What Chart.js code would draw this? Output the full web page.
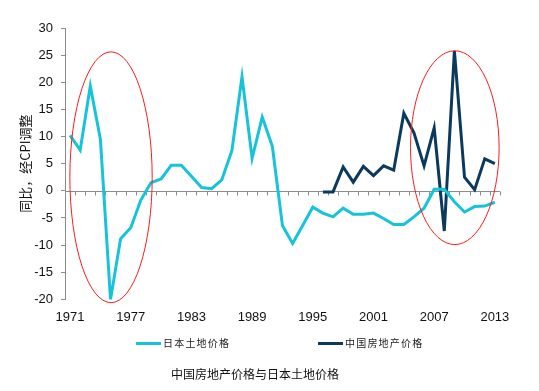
<!DOCTYPE html>
<html>
<head>
<meta charset="utf-8">
<script src="https://cdn.jsdelivr.net/npm/chart.js@4/dist/chart.umd.min.js"></script>
<style>
  body { margin: 0; background: #fff; }
  .wrap { position: relative; width: 539px; height: 391px; }
  canvas { position: absolute; left: 0; top: 0; }
  .legend-line { position: absolute; height: 3px; }
  .legend-text { position: absolute; font: 10px "Noto Sans CJK SC", sans-serif; letter-spacing: 1.2px; color: #222; line-height: 14px; }
  .title { position: absolute; font: 12px "Noto Sans CJK SC", sans-serif; color: #111; line-height: 16px; }
</style>
</head>
<body>
<div class="wrap">
  <canvas id="chart" width="539" height="391"></canvas>
  <div class="legend-line" style="left:136px; top:342px; width:25px; background:#17c3d8;"></div>
  <div class="legend-text" style="left:163px; top:336px;">日本土地价格</div>
  <div class="legend-line" style="left:318px; top:342px; width:25px; background:#0b3a5e;"></div>
  <div class="legend-text" style="left:345px; top:336px;">中国房地产价格</div>
  <div class="title" style="left:171px; top:366px;">中国房地产价格与日本土地价格</div>
</div>
<script>
// years shown on the x axis
const xTickYears = [1971, 1977, 1983, 1989, 1995, 2001, 2007, 2013];

// Japan land price, 1971-2013 (yoy, CPI adjusted)
const japanYears = [];
for (let y = 1971; y <= 2013; y++) japanYears.push(y);
const japanValues = [
  10.2, 7.5, 19.3, 9.5, -20, -8.8, -6.8, -1.7, 1.5, 2.2,
  4.7, 4.7, 2.7, 0.6, 0.4, 2.0, 7.4, 21.0, 6.0, 13.6,
  8.2, -6.4, -9.7, -6.4, -3.0, -4.1, -4.8, -3.2, -4.3, -4.3,
  -4.1, -5.1, -6.2, -6.2, -4.8, -3.2, 0.3, 0.3, -2.0, -3.9,
  -2.9, -2.8, -2.1
];

// China property price, 1996-2013
const chinaYears = [];
for (let y = 1996; y <= 2013; y++) chinaYears.push(y);
const chinaValues = [
  -0.2, -0.2, 4.4, 1.6, 4.5, 2.8, 4.6, 3.8, 14.3, 10.7,
  4.6, 11.6, -7.4, 25.8, 2.5, 0.2, 5.9, 5.0
];

// red ellipses highlighting the two periods (data units)
const highlightX = [1975.05, 2009.04];
const highlightY = [2.5, 7.95];
const highlightRx = [4.07, 4.38];
const highlightRy = [23.1, 17.85];

const toPoints = (xs, ys) => xs.map((x, i) => ({ x: x, y: ys[i] }));

const zeroLinePlugin = {
  id: 'zeroLine',
  beforeDatasetsDraw(chart) {
    const { ctx, scales: { x, y } } = chart;
    const y0 = Math.round(y.getPixelForValue(0)) + 0.5;
    ctx.save();
    ctx.strokeStyle = '#8c8c8c';
    ctx.lineWidth = 1;
    ctx.beginPath();
    ctx.moveTo(x.left, y0);
    ctx.lineTo(x.getPixelForValue(2013.5), y0);
    for (let yr = 1971.5; yr <= 2013.5; yr += 1) {
      const px = Math.round(x.getPixelForValue(yr)) + 0.5;
      ctx.moveTo(px, y0);
      ctx.lineTo(px, y0 + 4);
    }
    ctx.stroke();
    ctx.restore();
  }
};

const ellipsePlugin = {
  id: 'highlights',
  afterDatasetsDraw(chart) {
    const { ctx, scales: { x, y } } = chart;
    ctx.save();
    ctx.strokeStyle = '#ff1a1a';
    ctx.lineWidth = 1;
    highlightX.forEach((cx, i) => {
      const px = x.getPixelForValue(cx);
      const py = y.getPixelForValue(highlightY[i]);
      const rx = Math.abs(x.getPixelForValue(cx + highlightRx[i]) - px);
      const ry = Math.abs(y.getPixelForValue(highlightY[i] + highlightRy[i]) - py);
      ctx.beginPath();
      ctx.ellipse(px, py, rx, ry, 0, 0, Math.PI * 2);
      ctx.stroke();
    });
    ctx.restore();
  }
};

const ctx = document.getElementById('chart').getContext('2d');
new Chart(ctx, {
  type: 'line',
  data: {
    datasets: [
      {
        label: '日本土地价格',
        data: toPoints(japanYears, japanValues),
        borderColor: '#17c3d8',
        backgroundColor: '#17c3d8',
        borderWidth: 3,
        pointRadius: 0,
        tension: 0
      },
      {
        label: '中国房地产价格',
        data: toPoints(chinaYears, chinaValues),
        borderColor: '#0b3a5e',
        backgroundColor: '#0b3a5e',
        borderWidth: 3,
        pointRadius: 0,
        tension: 0
      }
    ]
  },
  options: {
    responsive: false,
    animation: false,
    layout: { padding: { top: 28, right: 32, bottom: 56, left: 0 } },
    plugins: {
      legend: { display: false },
      tooltip: { enabled: false }
    },
    scales: {
      x: {
        type: 'linear',
        min: 1970.5,
        max: 2014.2,
        afterBuildTicks: (scale) => {
          scale.ticks = xTickYears.map(v => ({ value: v }));
        },
        ticks: {
          callback: (v) => String(v),
          color: '#111',
          font: { family: 'Liberation Sans', size: 13 },
          padding: 10,
          maxRotation: 0,
          autoSkip: false
        },
        grid: { display: false, drawTicks: false },
        border: { display: false }
      },
      y: {
        min: -20,
        max: 30,
        afterFit: (scale) => { scale.width = 65; },
        ticks: {
          stepSize: 5,
          color: '#111',
          font: { family: 'Liberation Sans', size: 13 },
          padding: 8
        },
        grid: { drawOnChartArea: false, drawTicks: true, tickLength: 4, color: '#8c8c8c' },
        border: { display: true, color: '#8c8c8c' },
        title: {
          display: true,
          text: '同比，经CPI调整',
          color: '#111',
          font: { family: 'Noto Sans CJK SC', size: 13 },
          padding: { top: 17, bottom: 0 }
        }
      }
    }
  },
  plugins: [zeroLinePlugin, ellipsePlugin]
});
</script>
</body>
</html>
